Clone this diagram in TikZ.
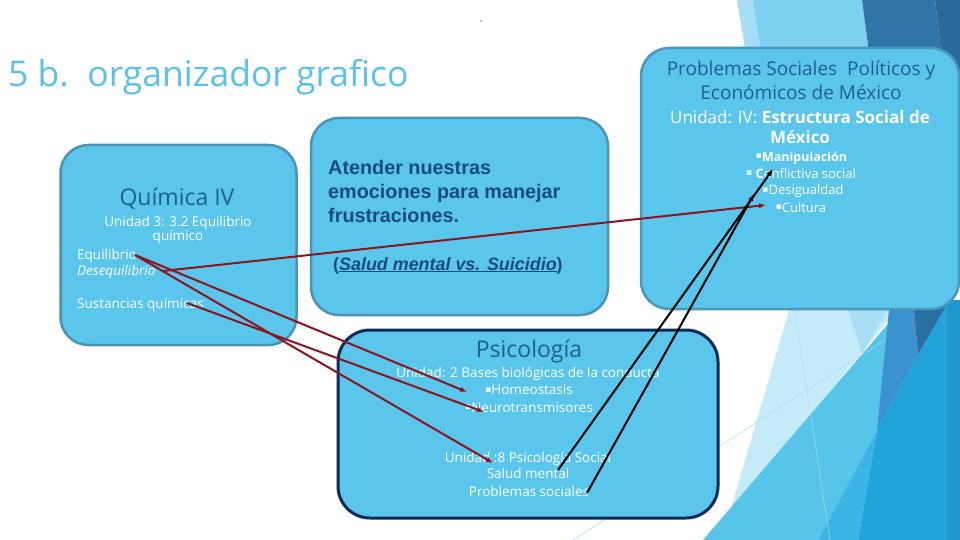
\documentclass[tikz,border=0pt]{standalone}
\usepackage{fontspec}
\setmainfont{Open Sans}
\newfontfamily\arialf{Liberation Sans}
\newfontfamily\djv{DejaVu Sans}
\usetikzlibrary{arrows.meta}
\definecolor{boxfill}{HTML}{5AC6EB}
\definecolor{boxline}{HTML}{4A93B5}
\definecolor{pboxline}{HTML}{4A98BC}
\definecolor{navy}{HTML}{0B2A5C}
\definecolor{titlec}{HTML}{5BC2E7}
\definecolor{dblue}{HTML}{1E5F8F}
\definecolor{atc}{HTML}{1A4B80}
\definecolor{redl}{HTML}{8A1420}
\definecolor{fA}{HTML}{A5DDF4}
\definecolor{fB}{HTML}{7DD1F0}
\definecolor{fC}{HTML}{2F75A7}
\definecolor{fD}{HTML}{2A6A9B}
\definecolor{fE}{HTML}{C6EBF8}
\definecolor{fF}{HTML}{A9DFF5}
\definecolor{fG}{HTML}{57C4EA}
\definecolor{fH}{HTML}{3BB5E6}
\definecolor{fI}{HTML}{3A92CF}
\definecolor{fJ}{HTML}{2B6EA1}
\definecolor{fK}{HTML}{22A3DA}
\definecolor{fL}{HTML}{1E96CE}
\newcommand\bul{\raisebox{2.5pt}{\djv\fontsize{9}{9}\selectfont ▪}}
\newcommand\fs[1]{\fontsize{#1}{#1}\selectfont}
\tikzset{
  lbox/.style={draw=boxline, line width=2.5pt, fill=boxfill, rounded corners=28pt, inner sep=0pt},
  nbox/.style={draw=navy, line width=3pt, fill=boxfill, rounded corners=32pt, inner sep=0pt},
  txt/.style={inner sep=0pt, anchor=base},
  wtxt/.style={txt, text=white},
  redarr/.style={draw=redl, line width=2pt, -{Latex[length=7pt,width=5.5pt]}},
  blkarr/.style={draw=black, line width=2pt, -{Latex[length=7pt,width=5.5pt]}},
  facetline/.style={draw=fA, line width=0.5pt}
}
\begin{document}
\begin{tikzpicture}[x=1pt,y=-1pt]
\useasboundingbox (0,0) rectangle (960,540);
\fill[white] (0,0) rectangle (960,540);
% background facets, top
\fill[fA] (737,0) -- (753,0) -- (762,60) -- (747,60) -- cycle;
\fill[fB] (753,0) -- (862,0) -- (870,60) -- (762,60) -- cycle;
\fill[fC] (862,0) -- (935,0) -- (942,60) -- (870,60) -- cycle;
\fill[fD] (935,0) -- (960,0) -- (960,280) -- (942,280) -- (942,60) -- cycle;
% background facets, bottom
\fill[fE] (792,300) -- (905,300) -- (730,512) -- cycle;
\fill[fF] (845,300) -- (893,300) -- (862,354) -- cycle;
\fill[fG] (703,540) -- (893,318) -- (900,300) -- (913,300) -- (877,430) -- (818,540) -- cycle;
\fill[fH] (818,540) -- (877,430) -- (858,540) -- cycle;
\fill[fI] (890,300) -- (913,300) -- (918,355) -- (877,430) -- cycle;
\fill[fJ] (913,300) -- (950,300) -- (918,355) -- cycle;
\fill[fK] (858,540) -- (877,430) -- (918,355) -- (950,300) -- (960,300) -- (960,540) -- cycle;
\fill[fL] (947,300) -- (960,300) -- (960,540) -- (947,540) -- cycle;
\draw[facetline] (793,300) -- (830,540);
\draw[facetline] (573,540) -- (885,340);
% tiny dot
\fill[black] (481,21) circle (0.7);
% title
\node[txt, anchor=base west, text=titlec] (title) at (8,87) {\fs{35.5}5 b.\ \ organizador grafico};
% boxes
\node[lbox, draw=pboxline, minimum width=318pt, minimum height=261pt] (pbox) at (800,178.5) {};
\node[lbox, minimum width=297pt, minimum height=197pt] (abox) at (459.5,216.5) {};
\node[lbox, minimum width=236pt, minimum height=200pt] (qbox) at (178.5,245) {};
\node[nbox, minimum width=380pt, minimum height=188pt] (sbox) at (528,424) {};
% Problemas box text
\node[txt, text=dblue] (p1) at (801,76) {\fs{19}Problemas Sociales\ \ Políticos y};
\node[txt, text=dblue] (p2) at (801,99.5) {\fs{19}Económicos de México};
\node[wtxt] (p3) at (800,123.5) {\fs{17}Unidad: IV: \textbf{Estructura Social de}};
\node[wtxt] (p4) at (800,143.5) {\fs{17}\textbf{México}};
\node[wtxt] (p5) at (801.5,161) {\fs{12.5}\bul\textbf{Manipulación}};
\node[wtxt] (p6) at (801,178.5) {\fs{13}\bul\ \textbf{C}onflictiva social};
\node[wtxt] (p7) at (803,194.5) {\fs{13}\bul Desigualdad};
\node[wtxt] (p8) at (801,212) {\fs{13}\bul Cultura};
% Quimica box text
\node[txt, text=dblue] (q1) at (177,205) {\fs{23}Química IV};
\node[wtxt] (q2) at (178,226) {\fs{13.5}Unidad 3: 3.2 Equilibrio};
\node[wtxt] (q3) at (178,240) {\fs{13.5}químico};
\node[wtxt, anchor=base west] (q4) at (77,259) {\fs{13.5}Equilibrio};
\node[wtxt, anchor=base west] (q5) at (77,275) {\fs{13.5}\textit{Desequilibrio}};
\node[wtxt, anchor=base west] (q6) at (77,308) {\fs{13.5}Sustancias químicas};
% Atender box text
\node[txt, anchor=base west, text=atc] (a1) at (328,175) {\arialf\bfseries\fs{19.8}Atender nuestras};
\node[txt, anchor=base west, text=atc] (a2) at (328,198.5) {\arialf\bfseries\fs{19.8}emociones para manejar};
\node[txt, anchor=base west, text=atc] (a3) at (328,222) {\arialf\bfseries\fs{19.8}frustraciones.};
\node[txt, anchor=base west, text=atc] (a4) at (333,270) {\arialf\bfseries\fs{17.9}(\underline{\textit{Salud mental vs. Suicidio}})};
% Psicologia box text
\node[txt, text=dblue] (s1) at (529,357) {\fs{23}Psicología};
\node[wtxt] (s2) at (528,377.5) {\fs{13.5}Unidad: 2 Bases biológicas de la conducta};
\node[wtxt] (s3) at (529,394.5) {\fs{13.5}\bul Homeostasis};
\node[wtxt] (s4) at (529,412) {\fs{13.5}\bul Neurotransmisores};
\node[wtxt] (s5) at (528,462) {\fs{13.5}Unidad :8 Psicología Social};
\node[wtxt] (s6) at (528,478.5) {\fs{13.5}Salud mental};
\node[wtxt] (s7) at (529,496) {\fs{13.5}Problemas sociales};
% connector end points
\coordinate (eqpt) at (135,255);
\coordinate (despt) at (163,271);
\coordinate (suspt) at (187,303);
\coordinate (cultpt) at (766,205);
\coordinate (homeopt) at (467,392);
\coordinate (neuropt) at (484,412);
\coordinate (u8pt) at (493,463);
\coordinate (saludpt) at (558,470);
\coordinate (probpt) at (587,493);
\coordinate (conflpt) at (773,169);
\coordinate (desigpt) at (754,194);
% connectors
\draw[redarr] (despt) -- (cultpt);
\draw[redarr] (eqpt) -- (homeopt);
\draw[redarr] (eqpt) -- (u8pt);
\draw[redarr] (suspt) -- (neuropt);
\draw[blkarr] (saludpt) -- (conflpt);
\draw[blkarr] (probpt) -- (desigpt);
\end{tikzpicture}
\end{document}
